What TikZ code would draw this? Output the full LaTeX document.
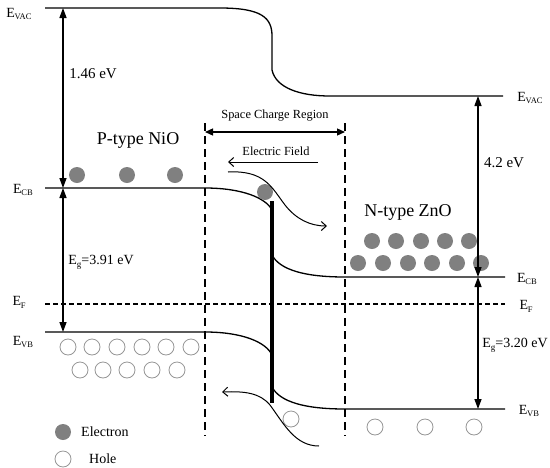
\documentclass[tikz,border=0pt]{standalone}
\usepackage{fontspec}
\setmainfont{Liberation Serif}
\usetikzlibrary{arrows.meta}
\definecolor{egray}{RGB}{128,128,128}
\definecolor{hgray}{RGB}{150,150,150}
\newcommand{\Esub}[1]{E\kern-0.3pt\raisebox{-0.45ex}{\fontsize{8.5}{9}\selectfont #1}}
\newcommand{\Eg}{E\raisebox{-0.45ex}{\fontsize{9}{9}\selectfont g}}
\begin{document}
\begin{tikzpicture}[x=1pt,y=-1pt,
  band/.style={line width=1.3pt},
  dline/.style={line width=1.1pt,dash pattern=on 8pt off 5pt},
  fline/.style={line width=1.1pt,dash pattern=on 5pt off 3pt},
  elec/.style={circle,fill=egray,draw=none,minimum size=16pt,inner sep=0pt},
  hole/.style={circle,draw=hgray,line width=0.8pt,minimum size=16pt,inner sep=0pt},
  lab/.style={font=\fontsize{14}{14}\selectfont,inner sep=0pt},
  val/.style={font=\fontsize{15}{15}\selectfont,inner sep=0pt},
  big/.style={font=\fontsize{18}{18}\selectfont,inner sep=0pt},
  small/.style={font=\fontsize{12.4}{13}\selectfont,inner sep=0pt},
  varrow/.style={line width=1.3pt,{Triangle[length=10pt,width=7pt]}-{Triangle[length=10pt,width=7pt]}},
  sarrow/.style={line width=1.3pt,{Triangle[length=8pt,width=7pt]}-{Triangle[length=8pt,width=7pt]}},
  oarrow/.style={line width=1pt,-{Straight Barb[length=5pt,width=9pt]}}
]
\useasboundingbox (0,0) rectangle (550,467);

% coordinates
\coordinate (vacL0) at (45,8);
\coordinate (vacR1) at (503,96);
\coordinate (cbL0) at (45,188);
\coordinate (cbL1) at (205,188);
\coordinate (cbBarTop) at (272,210);
\coordinate (cbBarBot) at (272,255);
\coordinate (cbR0) at (345,277);
\coordinate (cbR1) at (505,277);
\coordinate (vbL0) at (45,332);
\coordinate (vbL1) at (205,332);
\coordinate (vbBarTop) at (272,355);
\coordinate (vbBarBot) at (272,387);
\coordinate (vbR0) at (345,409);
\coordinate (vbR1) at (505,409);

% vacuum level
\draw[band] (vacL0) -- (220,8) .. controls (262,8) and (272,18) .. (272,36) -- (272,70)
  .. controls (276,88) and (300,96) .. (330,96) -- (vacR1);
% conduction band
\draw[band] (cbL0) -- (cbL1) .. controls (242,188) and (266,198) .. (cbBarTop);
\draw[band] (cbBarBot) .. controls (280,270) and (305,277) .. (cbR0) -- (cbR1);
% valence band
\draw[band] (vbL0) -- (vbL1) .. controls (242,332) and (266,342) .. (vbBarTop);
\draw[band] (vbBarBot) .. controls (280,402) and (305,409) .. (vbR0) -- (vbR1);
% Fermi level
\draw[fline] (45,304) coordinate (efL) -- (505,304) coordinate (efR);
% interface bar
\draw[line width=4pt] (272,201) coordinate (barT) -- (272,403) coordinate (barB);
% space charge boundaries
\draw[dline] (205,123) coordinate (scL) -- (205,436) coordinate (scLb);
\draw[dline] (345,123) coordinate (scR) -- (345,436) coordinate (scRb);

% electrons
\foreach \x/\n in {77/a,127/b,175/c} \node[elec] (eL\n) at (\x,175) {};
\foreach \x/\n in {372/a,396/b,421/c,445/d,469/e} \node[elec] (eR\n) at (\x,241) {};
\foreach \x/\n in {358/a,383/b,408/c,432/d,457/e,481/f} \node[elec] (eS\n) at (\x,263) {};
\node[elec] (eM) at (265,192) {};
% holes
\foreach \x/\n in {68/a,92/b,117/c,142/d,166/e,191/f} \node[hole] (hL\n) at (\x,347) {};
\foreach \x/\n in {80/a,103/b,127/c,152/d,177/e} \node[hole] (hM\n) at (\x,370) {};
\foreach \x/\n in {375/a,425/b,474/c} \node[hole] (hR\n) at (\x,427) {};
\node[hole] (hC) at (291,419) {};

% energy arrows
\draw[varrow] (63,8) coordinate (a1t) -- (63,188) coordinate (a1b);
\draw[varrow] (a1b) -- (63,332) coordinate (a2b);
\draw[varrow] (478,96) coordinate (a3t) -- (478,277) coordinate (a3b);
\draw[varrow] (a3b) -- (478,409) coordinate (a4b);

% space charge region arrow
\draw[sarrow] (205,132) coordinate (scA) -- (345,132) coordinate (scB);
\node[small] (scr) at (275,116) {Space Charge Region};
% electric field
\draw[oarrow] (318,162) coordinate (efa) -- (228,162) coordinate (efb);
\node[small] (eft) at (276,151) {Electric Field};
% carrier paths
\draw[oarrow] (228,172) coordinate (ep0) .. controls (265,170) and (272,188) .. (285,205)
  .. controls (296,219) and (310,226) .. (327,226) coordinate (ep1);
\draw[oarrow] (319,446) coordinate (hp0) .. controls (295,446) and (284,424) .. (270,405)
  .. controls (260,393) and (245,391) .. (222,392) coordinate (hp1);

% level labels
\node[lab] (tvacL) at (19,14) {\Esub{VAC}};
\node[lab] (tcbL) at (23,190) {\Esub{CB}};
\node[lab] (tfL) at (19,302) {\Esub{F}};
\node[lab] (tvbL) at (23,342) {\Esub{VB}};
\node[lab] (tvacR) at (530,98) {\Esub{VAC}};
\node[lab] (tcbR) at (527,279) {\Esub{CB}};
\node[lab] (tfR) at (526,306) {\Esub{F}};
\node[lab] (tvbR) at (529,411) {\Esub{VB}};

% values
\node[val] (v1) at (93,74) {1.46 eV};
\node[lab] (v2) at (101,262) {\Eg=3.91 eV};
\node[val] (v3) at (504,163) {4.2 eV};
\node[lab] (v4) at (515,345) {\Eg=3.20 eV};

% material labels
\node[big] (pt) at (138,140) {P-type NiO};
\node[big] (nt) at (408,212) {N-type ZnO};

% legend
\node[elec] (le) at (63,432) {};
\node[lab,anchor=west] (let) at (81,432) {Electron};
\node[hole] (lh) at (63,459) {};
\node[lab,anchor=west] (lht) at (89,459) {Hole};
\end{tikzpicture}
\end{document}
